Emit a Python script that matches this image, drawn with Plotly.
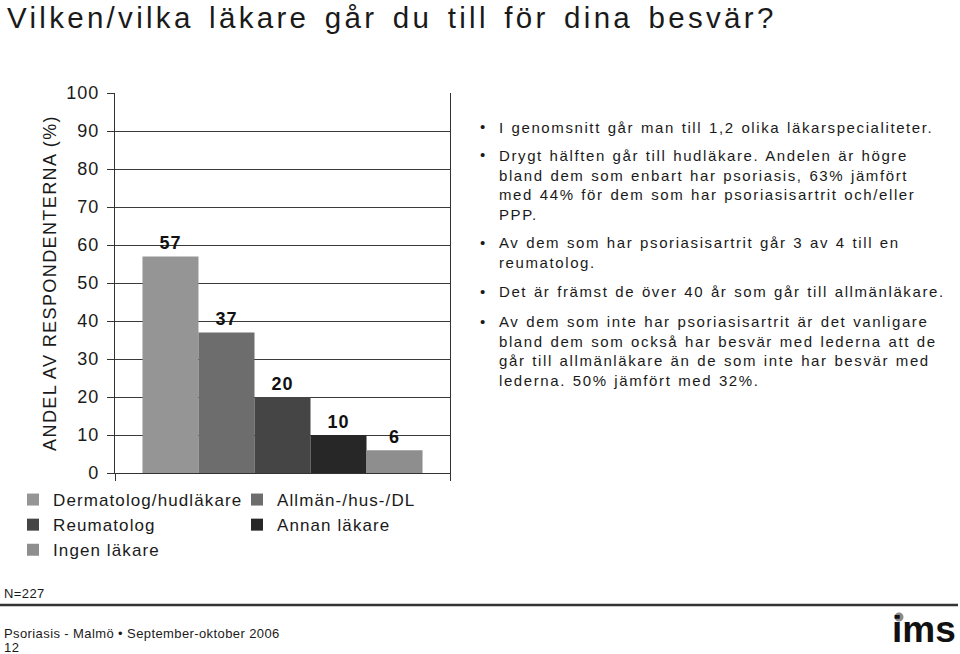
import plotly.graph_objects as go

# ---- data ----
title_text = "Vilken/vilka läkare går du till för dina besvär?"
series_names = ["Dermatolog/hudläkare", "Allmän-/hus-/DL", "Reumatolog", "Annan läkare", "Ingen läkare"]
series_values = [57, 37, 20, 10, 6]
series_colors = ["#959595", "#6d6d6d", "#454545", "#272727", "#8e8e8e"]
category = [""]
y_ticks = [0, 10, 20, 30, 40, 50, 60, 70, 80, 90, 100]
y_title = "ANDEL AV RESPONDENTERNA (%)"
bullets = [
    "I genomsnitt går man till 1,2 olika läkarspecialiteter.",
    "Drygt hälften går till hudläkare. Andelen är högre<br>bland dem som enbart har psoriasis, 63% jämfört<br>med 44% för dem som har psoriasisartrit och/eller<br>PPP.",
    "Av dem som har psoriasisartrit går 3 av 4 till en<br>reumatolog.",
    "Det är främst de över 40 år som går till allmänläkare.",
    "Av dem som inte har psoriasisartrit är det vanligare<br>bland dem som också har besvär med lederna att de<br>går till allmänläkare än de som inte har besvär med<br>lederna. 50% jämfört med 32%.",
]
bullet_first_line_y = [127, 155, 242, 291, 321]
footnote_n = "N=227"
footer_text = "Psoriasis - Malmö • September-oktober 2006"
page_no = "12"
logo_text = "ims"

FONT = "Liberation Sans, Arial, Helvetica, sans-serif"
W, H = 960, 654
L, R, T, B = 115, 450, 93, 473  # plot area in px


def px(xp):
    return (xp - L) / (R - L)


def py(yp):
    return (B - yp) / (B - T)


fig = go.Figure()
for name, val, col in zip(series_names, series_values, series_colors):
    fig.add_trace(go.Bar(
        x=category, y=[val], name=name, marker=dict(color=col, line=dict(width=0)),
        text=[str(val)], textposition="outside", cliponaxis=False,
        textfont=dict(family=FONT, size=18, color="#111111", weight="bold"),
        hoverinfo="skip",
    ))

annotations = [
    dict(text=title_text, x=px(5), y=py(17.5), xref="paper", yref="paper",
         xanchor="left", yanchor="middle", align="left", showarrow=False,
         font=dict(family=FONT, size=29.5, color="#1a1a1a")),
]
for txt, y0 in zip(bullets, bullet_first_line_y):
    annotations.append(dict(text="•", x=px(478), y=py(y0), xref="paper", yref="paper",
                            xanchor="left", yanchor="middle", align="left", showarrow=False,
                            font=dict(family=FONT, size=15, color="#1a1a1a")))
    annotations.append(dict(text=txt, x=px(497), y=py(y0 - 10), xref="paper", yref="paper",
                            xanchor="left", yanchor="top", align="left", showarrow=False,
                            font=dict(family=FONT, size=15, color="#1a1a1a")))
i_footer = len(annotations)
annotations += [
    dict(text=footnote_n, x=px(2), y=py(593), xref="paper", yref="paper",
         xanchor="left", yanchor="middle", align="left", showarrow=False,
         font=dict(family=FONT, size=13, color="#1a1a1a")),
    dict(text=footer_text, x=px(2), y=py(633), xref="paper", yref="paper",
         xanchor="left", yanchor="middle", align="left", showarrow=False,
         font=dict(family=FONT, size=13, color="#1a1a1a")),
    dict(text=page_no, x=px(2), y=py(647), xref="paper", yref="paper",
         xanchor="left", yanchor="middle", align="left", showarrow=False,
         font=dict(family=FONT, size=13, color="#1a1a1a")),
    dict(text=logo_text, x=px(958), y=py(629), xref="paper", yref="paper",
         xanchor="right", yanchor="middle", align="right", showarrow=False,
         font=dict(family=FONT, size=37, color="#111111", weight="bold")),
]

shapes = [
    dict(type="line", xref="paper", yref="paper", x0=px(0), x1=px(958), y0=py(605), y1=py(605),
         line=dict(color="#333333", width=2.5)),
    # grey dot of the logo's "i"
    dict(type="circle", xref="paper", yref="paper", x0=px(894.5), x1=px(903.5),
         y0=py(612.5), y1=py(621.5), fillcolor="#8a8a8a", line=dict(width=0), layer="above"),
]

fig.update_layout(
    width=W, height=H, autosize=False,
    margin=dict(l=L, r=W - R, t=T, b=H - B, pad=0),
    paper_bgcolor="white", plot_bgcolor="white",
    barmode="group", bargap=0.164, bargroupgap=0,
    font=dict(family=FONT, color="#1a1a1a"),
    showlegend=True,
    legend=dict(orientation="h", x=px(13), xanchor="left", y=py(482), yanchor="top",
                entrywidth=179, entrywidthmode="pixels", traceorder="normal",
                font=dict(family=FONT, size=17, color="#1a1a1a"), bgcolor="rgba(0,0,0,0)"),
    xaxis=dict(type="category", showticklabels=False, ticks="outside", tickson="boundaries",
               ticklen=7, tickcolor="#333333", showline=True, linecolor="#333333", linewidth=1.2,
               showgrid=False, zeroline=False, fixedrange=True),
    yaxis=dict(range=[0, 100], tickvals=y_ticks, ticks="outside", ticklen=7, tickcolor="#333333",
               showline=True, linecolor="#333333", linewidth=1.2, mirror=True,
               showgrid=True, gridcolor="#3a3a3a", gridwidth=1, zeroline=False,
               ticklabelstandoff=4,
               tickfont=dict(family=FONT, size=18, color="#1a1a1a"),
               title=dict(text=y_title, standoff=7, font=dict(family=FONT, size=18, color="#1a1a1a")),
               fixedrange=True),
    annotations=annotations,
    shapes=shapes,
)

post = """
var gd = document.getElementById('{plot_id}');
function sp(sel, ls, ws){
  gd.querySelectorAll(sel).forEach(function(t){ t.style.letterSpacing = ls; if(ws){ t.style.wordSpacing = ws; } });
}
sp('g.annotation text', '1.6px', '1px');
sp('g.annotation[data-index="0"] text', '3.3px', '4px');
sp('g.annotation[data-index="%d"] text', '0.4px', '0px');
sp('g.annotation[data-index="%d"] text', '0.4px', '0px');
sp('g.annotation[data-index="%d"] text', '0.4px', '0px');
sp('g.annotation[data-index="%d"] text', '0px', '0px');
sp('text.legendtext', '1.1px');
sp('.ytick text', '1px');
sp('text.bartext', '1px');
sp('text.ytitle', '1.4px');
""" % (i_footer, i_footer + 1, i_footer + 2, i_footer + 3)

fig.write_html("out.html", post_script=post, config={"displayModeBar": False, "staticPlot": True})
